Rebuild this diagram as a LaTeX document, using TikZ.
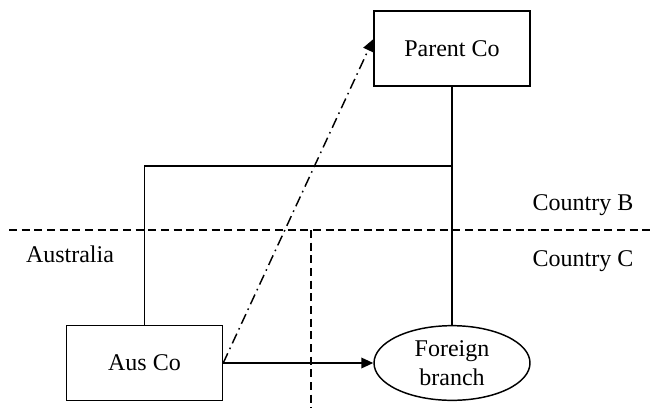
\documentclass[tikz,border=0pt]{standalone}
\usepackage{fontspec}
\setmainfont{Liberation Serif}
\usetikzlibrary{arrows.meta,shapes.geometric}

\tikzset{
  cobox/.style={draw, line width=1.1pt, minimum width=117pt, minimum height=56pt, inner sep=0.75pt, font=\fontsize{18}{20}\selectfont},
  branchshape/.style={draw, ellipse, line width=1.1pt, minimum width=117pt, minimum height=56pt, inner sep=0.75pt, align=center, font=\fontsize{18}{22}\selectfont},
  lbl/.style={inner sep=0.75pt, font=\fontsize{18}{20}\selectfont},
  link/.style={line width=1.1pt},
  border/.style={line width=1.1pt, dash pattern=on 6pt off 3.5pt},
  owns/.style={line width=1.1pt, -{Triangle[length=9pt,width=8pt]}},
  loan/.style={line width=1.1pt, dash pattern=on 8pt off 3.5pt on 1.2pt off 3.5pt, -{Triangle[length=9pt,width=8pt]}}
}

\begin{document}
\begin{tikzpicture}[x=0.75pt,y=0.75pt,yscale=-1,xscale=1]
  \useasboundingbox (0,0) rectangle (650,408);

  % Boxes
  \node [cobox] (parent) at (452,48.5) {Parent Co};
  \node [cobox] (aus) at (144.5,363) {Aus Co};
  \node [branchshape] (branch) at (452,363) {Foreign\\branch};

  % Coordinates
  \coordinate (junction) at (452,166);
  \coordinate (bleft) at (9,230);
  \coordinate (bright) at (650,230);
  \coordinate (ctop) at (311,230);
  \coordinate (cbottom) at (311,408);

  % Ownership lines
  \draw [link] (parent) -- (branch);
  \draw [link] (aus.north) |- (junction);

  % Borders
  \draw [border] (bleft) -- (bright);
  \draw [border] (ctop) -- (cbottom);

  % Arrows
  \draw [owns] (aus.east) -- (branch.west);
  \draw [loan] (aus.east) -- ([yshift=-7pt]parent.west);

  % Text Node
  \node [lbl] (australia) at (70,254) {Australia};
  % Text Node
  \node [lbl] (countryb) at (583,205) {Country B};
  % Text Node
  \node [lbl] (countryc) at (583,261) {Country C};
\end{tikzpicture}
\end{document}
